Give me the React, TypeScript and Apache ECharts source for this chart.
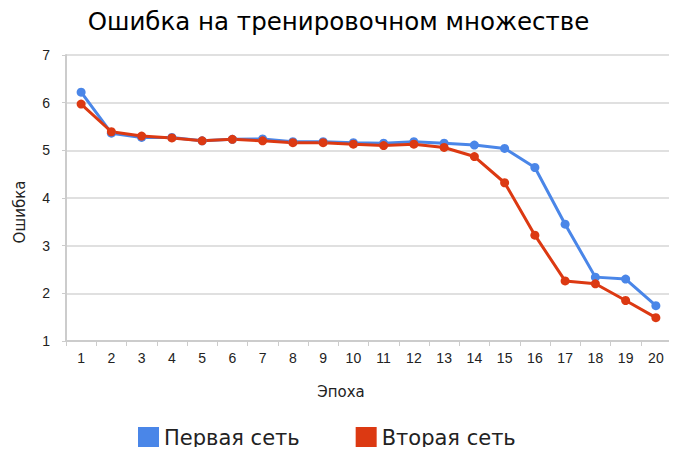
import React, { useEffect, useRef } from "react";
import * as echarts from "echarts";

const epochs = ["1","2","3","4","5","6","7","8","9","10","11","12","13","14","15","16","17","18","19","20"];
const firstNet = [6.22, 5.36, 5.27, 5.27, 5.20, 5.23, 5.24, 5.18, 5.18, 5.16, 5.15, 5.18, 5.15, 5.11, 5.04, 4.64, 3.45, 2.34, 2.30, 1.74];
const secondNet = [5.97, 5.39, 5.30, 5.26, 5.20, 5.23, 5.20, 5.16, 5.16, 5.13, 5.10, 5.13, 5.06, 4.87, 4.32, 3.22, 2.26, 2.20, 1.85, 1.49];
const seriesNames = ["Первая сеть", "Вторая сеть"];
const colors = ["#4a86e8", "#dc3912"];

export default function App() {
  const ref = useRef<HTMLDivElement>(null);
  useEffect(() => {
    const chart = echarts.init(ref.current!, null, { renderer: "svg" });
    chart.setOption({
      animation: false,
      backgroundColor: "#fff",
      title: {
        text: "Ошибка на тренировочном множестве",
        left: "center",
        top: 4,
        textStyle: { fontFamily: "DejaVu Sans", fontSize: 24.5, fontWeight: "normal", color: "#000" },
      },
      legend: {
        bottom: 2,
        left: 133,
        itemWidth: 21,
        itemHeight: 21,
        itemGap: 56,
        icon: "rect",
        textStyle: { fontFamily: "DejaVu Sans", fontSize: 21, color: "#222", padding: [0, 0, 0, 0] },
        data: seriesNames,
      },
      grid: { left: 66, right: 6, top: 55, bottom: 114 },
      graphic: [
        {
          type: "text",
          x: 20,
          y: 212,
          rotation: Math.PI / 2,
          style: {
            text: "Ошибка",
            fontFamily: "DejaVu Sans",
            fontSize: 15,
            fill: "#222",
            align: "center",
            verticalAlign: "middle",
          },
        },
        {
          type: "text",
          x: 341,
          y: 392,
          style: {
            text: "Эпоха",
            fontFamily: "DejaVu Sans",
            fontSize: 15,
            fill: "#222",
            align: "center",
            verticalAlign: "middle",
          },
        },
        {
          type: "rect",
          shape: { x: 670, y: 55, width: 2, height: 286 },
          style: { fill: "#ddd" },
          silent: true,
        },
      ],
      xAxis: {
        type: "category",
        data: epochs,
        boundaryGap: true,
        axisLine: { lineStyle: { color: "#ccc", width: 2 } },
        axisTick: { show: true, length: 5, lineStyle: { color: "#ccc" } },
        axisLabel: { fontFamily: "Liberation Sans", fontSize: 14, color: "#222", margin: 10, interval: 0 },
      },
      yAxis: {
        type: "value",
        min: 1,
        max: 7,
        interval: 1,
        axisLine: { show: true, lineStyle: { color: "#ccc", width: 2 } },
        axisTick: { show: true, length: 4, lineStyle: { color: "#ccc" } },
        axisLabel: { fontFamily: "Liberation Sans", fontSize: 14, color: "#222", margin: 16 },
        splitLine: { lineStyle: { color: "#e0e0e0", width: 2 } },
      },
      series: [
        {
          name: seriesNames[0],
          type: "line",
          data: firstNet,
          color: colors[0],
          symbol: "circle",
          symbolSize: 9,
          lineStyle: { width: 3 },
        },
        {
          name: seriesNames[1],
          type: "line",
          data: secondNet,
          color: colors[1],
          symbol: "circle",
          symbolSize: 9,
          lineStyle: { width: 3 },
        },
      ],
    });
    return () => chart.dispose();
  }, []);
  return <div ref={ref} style={{ width: 677, height: 455, margin: -8 }} />;
}
